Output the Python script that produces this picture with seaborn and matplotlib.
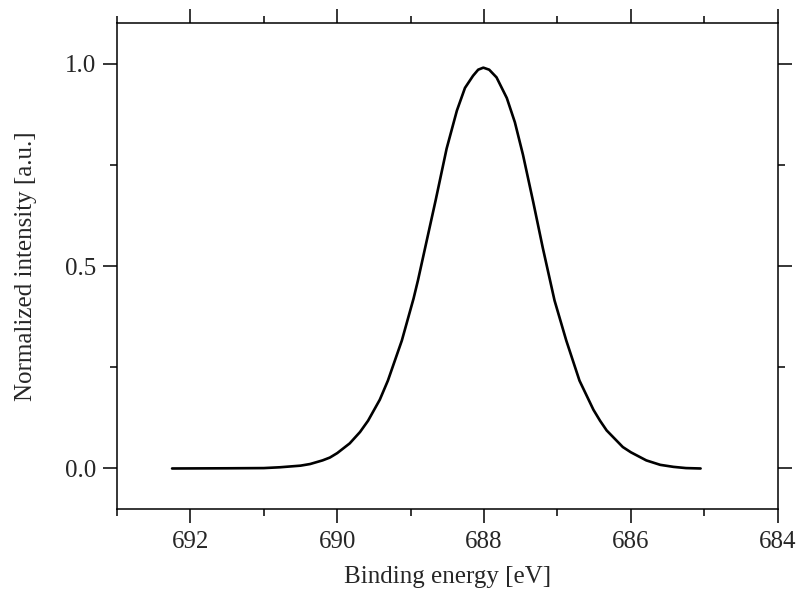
import numpy as np
import pandas as pd
import seaborn as sns
from matplotlib import pyplot as plt
from matplotlib.ticker import MultipleLocator

# values
binding_energy = [692.25, 691.5, 691.0, 690.78, 690.5, 690.37, 690.2, 690.1, 690.0,
                  689.83, 689.69, 689.58, 689.42, 689.31, 689.12, 688.96, 688.90,
                  688.76, 688.66, 688.51, 688.37, 688.26, 688.15, 688.08, 688.01,
                  687.93, 687.83, 687.69, 687.58, 687.47, 687.33, 687.20, 687.04,
                  686.88, 686.70, 686.51, 686.42, 686.33, 686.11, 686.0, 685.79,
                  685.6, 685.42, 685.25, 685.05]
intensity = [0.0, 0.0005, 0.001, 0.003, 0.007, 0.011, 0.02, 0.027, 0.038,
             0.062, 0.09, 0.118, 0.17, 0.217, 0.316, 0.42, 0.465,
             0.58, 0.662, 0.79, 0.884, 0.94, 0.97, 0.985, 0.99,
             0.985, 0.966, 0.915, 0.855, 0.775, 0.658, 0.545, 0.415,
             0.316, 0.217, 0.145, 0.118, 0.094, 0.053, 0.04, 0.02,
             0.009, 0.004, 0.001, 0.0]

df = pd.DataFrame({'energy': binding_energy, 'intensity': intensity})

sns.set_style('ticks')
plt.rcParams['font.family'] = ['Liberation Serif', 'DejaVu Serif']
plt.rcParams['font.size'] = 18

fig = plt.figure(figsize=(7.96, 5.93), dpi=100)
ax = fig.add_axes([0.147, 0.1417, 0.83, 0.8193])

sns.lineplot(data=df, x='energy', y='intensity', color='black', linewidth=1.9,
             sort=False, ax=ax)

ax.set_xlim(693, 684)
ax.set_ylim(-0.1, 1.1)
ax.xaxis.set_major_locator(MultipleLocator(2))
ax.xaxis.set_minor_locator(MultipleLocator(1))
ax.yaxis.set_major_locator(MultipleLocator(0.5))
ax.yaxis.set_minor_locator(MultipleLocator(0.25))

for s in ax.spines.values():
    s.set_visible(True)
    s.set_linewidth(1.1)
    s.set_color('black')

ax.tick_params(which='both', direction='out', top=True, right=True,
               width=1.1, color='black', labelsize=18)
ax.tick_params(which='major', length=10)
ax.tick_params(which='minor', length=5)
ax.tick_params(axis='x', pad=6)
ax.tick_params(axis='y', pad=5)

ax.set_xlabel('Binding energy [eV]', fontsize=18, labelpad=9)
ax.set_ylabel('Normalized intensity [a.u.]', fontsize=18, labelpad=20)

fig.savefig('out.png', dpi=100)
